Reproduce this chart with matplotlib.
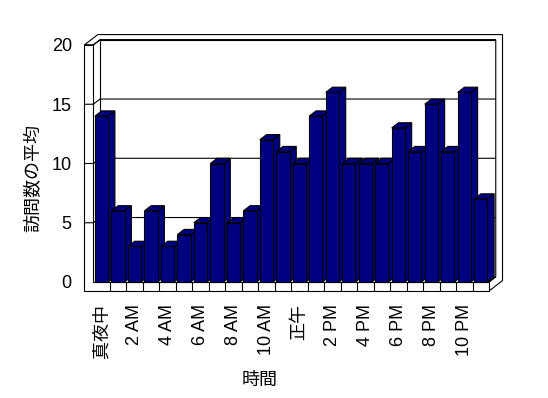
import matplotlib
matplotlib.use('Agg')
import matplotlib.pyplot as plt
from matplotlib.patches import Polygon

# ---- data ----
hours = list(range(24))
values = [14, 6, 3, 6, 3, 4, 5, 10, 5, 6, 12, 11, 10, 14, 16, 10, 10, 10, 13, 11, 15, 11, 16, 7]
tick_positions = [0, 2, 4, 6, 8, 10, 12, 14, 16, 18, 20, 22]
tick_labels = ['真夜中', '2 AM', '4 AM', '6 AM', '8 AM', '10 AM', '正午',
               '2 PM', '4 PM', '6 PM', '8 PM', '10 PM']
y_ticks = [0, 5, 10, 15, 20]
x_title = '時間'
y_title = '訪問数の平均'

plt.rcParams['font.family'] = ['Liberation Sans', 'Noto Sans CJK JP', 'DejaVu Sans']

W, H = 548, 398
fig = plt.figure(figsize=(W / 100, H / 100), dpi=100)
fig.patch.set_facecolor('white')
ax = fig.add_axes([93.3 / W, 1 - 282 / H, (489 - 93.3) / W, (282 - 45) / H])
n = len(values)
ymax = y_ticks[-1]
ax.set_xlim(0, n)
ax.set_ylim(0, ymax)
for s in ax.spines.values():
    s.set_visible(False)

DX, DY = 0.41, 0.44      # one depth step (data units)
WALL = 0.545             # left wall thickness (data x units)
FLOOR = 0.76             # floor thickness (data y units)
LW = 0.8
BAR = '#000080'


def poly(pts, fc='white', z=1):
    ax.add_patch(Polygon(pts, closed=True, facecolor=fc, edgecolor='black',
                         linewidth=LW, clip_on=False, zorder=z, joinstyle='miter'))


def line(xs, ys, z=2):
    ax.plot(xs, ys, color='black', lw=LW, clip_on=False, zorder=z,
            solid_capstyle='butt')


# back wall (inner face) and its outer rim
poly([(DX, DY), (n + DX, DY), (n + DX, ymax + DY), (DX, ymax + DY)], z=1)
poly([(-WALL, ymax), (-WALL + 2 * DX, ymax + 2 * DY), (n + 2 * DX, ymax + 2 * DY),
      (n + 2 * DX, -FLOOR + 2 * DY), (n, -FLOOR), (n, 0), (n + DX, DY),
      (n + DX, ymax + DY), (DX, ymax + DY), (0, ymax)], z=1)
# left wall front face + floor front face (L shape)
poly([(-WALL, -FLOOR), (n, -FLOOR), (n, 0), (0, 0), (0, ymax), (-WALL, ymax)], z=1)
line([n, n + DX], [0, DY])
# floor separators
for k in range(1, n):
    line([k, k], [-FLOOR, 0])
# gridlines (front tick on wall, diagonal, back wall line)
for t in y_ticks[1:]:
    line([-WALL, 0, DX, n + DX], [t, t, t + DY, t + DY])

# bars with fake depth
for i, v in zip(hours, values):
    x0, x1 = i + 0.1, i + 0.9
    z = 5 + i * 0.01
    poly([(x1, 0), (x1 + DX, DY), (x1 + DX, v + DY), (x1, v)], fc=BAR, z=z)
    poly([(x0, v), (x1, v), (x1 + DX, v + DY), (x0 + DX, v + DY)], fc=BAR, z=z)
    poly([(x0, 0), (x1, 0), (x1, v), (x0, v)], fc=BAR, z=z)

# ticks / labels
ax.set_yticks(y_ticks)
ax.set_yticklabels([str(t) for t in y_ticks], fontsize=13)
ax.set_xticks([p + 0.5 for p in tick_positions])
ax.set_xticklabels(tick_labels, rotation=90, fontsize=13)
ax.tick_params(axis='y', length=0, pad=15.5)
ax.tick_params(axis='x', length=0, pad=15.5)

fig.text(260 / W, 1 - 380 / H, x_title, ha='center', va='center', fontsize=13)
fig.text(34 / W, 1 - 178 / H, y_title, ha='center', va='center', rotation=90, fontsize=13)

fig.savefig('out.png', dpi=100, facecolor='white')
